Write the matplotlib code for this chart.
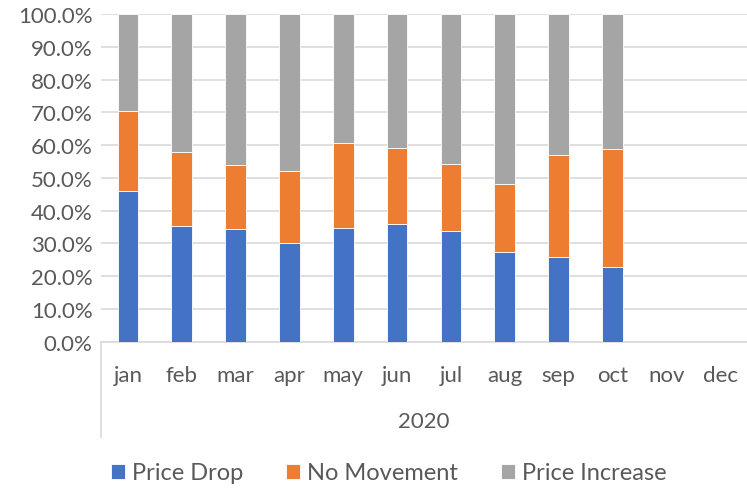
import matplotlib
matplotlib.use('Agg')
import matplotlib.pyplot as plt
from matplotlib.lines import Line2D
import numpy as np

months = ["jan", "feb", "mar", "apr", "may", "jun", "jul", "aug", "sep", "oct", "nov", "dec"]
year_label = "2020"
series_names = ["Price Drop", "No Movement", "Price Increase"]

# cumulative tops (percent); nov/dec empty
price_drop_top = [45.9, 35.2, 34.3, 30.2, 34.7, 35.9, 33.7, 27.4, 25.9, 22.8, 0, 0]
no_movement_top = [70.5, 58.0, 54.0, 52.2, 60.7, 59.2, 54.3, 48.0, 57.0, 58.9, 0, 0]
has_data = [1, 1, 1, 1, 1, 1, 1, 1, 1, 1, 0, 0]

price_drop = np.array(price_drop_top) / 100
no_movement = (np.array(no_movement_top) - np.array(price_drop_top)) / 100
price_increase = np.array(has_data) - np.array(no_movement_top) / 100

colors = ["#4472C4", "#ED7D31", "#A5A5A5"]
text_color = "#595959"
grid_color = "#D9D9D9"

plt.rcParams['font.family'] = ['Lato', 'DejaVu Sans']

fig = plt.figure(figsize=(7.47, 4.89), dpi=100)
ax = fig.add_axes([101 / 747, 1 - 342.6 / 489, 646 / 747, (342.6 - 15) / 489])

x = np.arange(len(months))
width = 0.385
bottom = np.zeros(len(months))
for vals, name, c in zip([price_drop, no_movement, price_increase], series_names, colors):
    ax.bar(x, vals, width, bottom=bottom, color=c, label=name,
           edgecolor="white", linewidth=0.6, zorder=3)
    bottom = bottom + vals

ax.set_xlim(-0.5, len(months) - 0.5)
ax.set_ylim(0, 1)
ax.set_yticks(np.arange(0, 1.01, 0.1))
ax.set_yticklabels([f"{v * 100:.1f}%" for v in np.arange(0, 1.01, 0.1)])
ax.grid(axis="y", color=grid_color, linewidth=1.2, zorder=0)

ax.set_xticks(x)
ax.set_xticklabels(months)
ax.tick_params(axis="x", length=0, pad=17, labelsize=16, colors=text_color)
ax.tick_params(axis="y", length=0, pad=6, labelsize=16, colors=text_color)

for side in ["top", "right", "left"]:
    ax.spines[side].set_visible(False)
ax.spines["bottom"].set_color(grid_color)
ax.spines["bottom"].set_linewidth(1.2)

# second category level
ax.text(0.5, -0.243, year_label, transform=ax.transAxes, ha="center", va="center",
        fontsize=16, color=text_color)
ax.add_line(Line2D([0, 0], [0, -0.29], transform=ax.transAxes, color=grid_color,
                   linewidth=1.2, clip_on=False))

handles, labels = ax.get_legend_handles_labels()
fig.legend(handles, labels, loc="center", bbox_to_anchor=(389 / 747, 1 - 474 / 489),
           ncol=3, frameon=False, fontsize=17, labelcolor=text_color,
           handlelength=0.6, handleheight=0.6, handletextpad=0.3, columnspacing=1.8)

fig.savefig("out.png", dpi=100)
